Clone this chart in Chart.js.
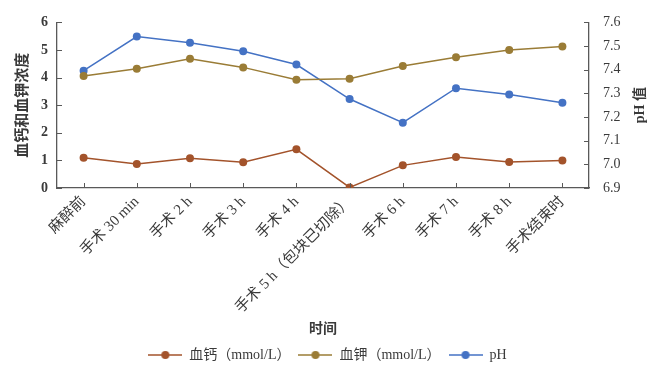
<!DOCTYPE html>
<html>
<head>
<meta charset="utf-8">
<script src="https://cdn.jsdelivr.net/npm/chart.js@4/dist/chart.umd.min.js"></script>
<style>
  html, body { margin: 0; padding: 0; background: #fff; }
  #wrap { width: 655px; height: 377px; }
</style>
</head>
<body>
<div id="wrap"><canvas id="chart" width="655" height="377"></canvas></div>
<script>
const categories = ['麻醉前', '手术 30 min', '手术 2 h', '手术 3 h', '手术 4 h', '手术 5 h（包块已切除）', '手术 6 h', '手术 7 h', '手术 8 h', '手术结束时'];
const calcium = [1.1, 0.87, 1.08, 0.93, 1.4, 0.02, 0.82, 1.12, 0.94, 1.0];
const potassium = [4.06, 4.32, 4.68, 4.37, 3.92, 3.96, 4.42, 4.74, 5.0, 5.13];
const ph = [7.396, 7.54, 7.514, 7.478, 7.422, 7.276, 7.176, 7.322, 7.295, 7.26];

const leftTicks = [0, 1, 2, 3, 4, 5, 6];
const rightTicks = [6.9, 7.0, 7.1, 7.2, 7.3, 7.4, 7.5, 7.6];

const colCa = '#A3532B';
const colK = '#9A7C36';
const colPh = '#4472C4';
const axisCol = '#595959';
const textCol = '#3a3a3a';
const serif = '"Liberation Serif", "Noto Sans CJK SC", serif';

// small line+dot icons for the legend
function legendIcon(color) {
    const c = document.createElement('canvas');
    c.width = 34; c.height = 10;
    const g = c.getContext('2d');
    g.strokeStyle = color;
    g.lineWidth = 1.5;
    g.beginPath(); g.moveTo(0, 5); g.lineTo(34, 5); g.stroke();
    g.fillStyle = color;
    g.beginPath(); g.arc(17, 5, 4, 0, Math.PI * 2); g.fill();
    return c;
}

// tick marks pointing into the plot, plus right axis title (reads bottom-to-top)
const extras = {
    id: 'extras',
    afterDraw(chart) {
        const ctx = chart.ctx;
        const a = chart.chartArea;
        const len = 5;
        ctx.save();
        ctx.strokeStyle = axisCol;
        ctx.lineWidth = 1;
        ctx.beginPath();
        const sx = chart.scales.x;
        sx.ticks.forEach((t, i) => {
            const px = Math.round(sx.getPixelForTick(i)) + 0.5;
            ctx.moveTo(px, a.bottom); ctx.lineTo(px, a.bottom - len);
        });
        const sy = chart.scales.y;
        sy.ticks.forEach(t => {
            const py = Math.round(sy.getPixelForValue(t.value)) + 0.5;
            ctx.moveTo(a.left, py); ctx.lineTo(a.left + len, py);
        });
        const sy1 = chart.scales.y1;
        sy1.ticks.forEach(t => {
            const py = Math.round(sy1.getPixelForValue(t.value)) + 0.5;
            ctx.moveTo(a.right, py); ctx.lineTo(a.right - len, py);
        });
        ctx.stroke();

        ctx.translate(640, (a.top + a.bottom) / 2);
        ctx.rotate(-Math.PI / 2);
        ctx.font = 'bold 14px ' + serif;
        ctx.fillStyle = textCol;
        ctx.textAlign = 'center';
        ctx.textBaseline = 'middle';
        ctx.fillText('pH 值', 0, 0);
        ctx.restore();
    }
};

const ds = (label, data, color, axis) => ({
    label, data, yAxisID: axis,
    borderColor: color, backgroundColor: color,
    borderWidth: 1.5, pointRadius: 4, pointHoverRadius: 4,
    pointBorderWidth: 0, tension: 0,
    pointStyle: 'circle',
    legendIcon: legendIcon(color)
});

const datasets = [
    ds('血钙（mmol/L）', calcium, colCa, 'y'),
    ds('血钾（mmol/L）', potassium, colK, 'y'),
    ds('pH', ph, colPh, 'y1')
];

new Chart(document.getElementById('chart'), {
    type: 'line',
    data: { labels: categories, datasets },
    options: {
        responsive: false,
        animation: false,
        layout: { padding: { top: 20, left: 0, right: 0, bottom: 5 } },
        plugins: {
            tooltip: { enabled: false },
            legend: {
                position: 'bottom',
                labels: {
                    usePointStyle: true,
                    pointStyleWidth: 34,
                    padding: 8,
                    color: textCol,
                    font: { family: serif, size: 14 },
                    generateLabels(chart) {
                        return chart.data.datasets.map((d, i) => ({
                            text: d.label,
                            fillStyle: d.borderColor,
                            strokeStyle: d.borderColor,
                            lineWidth: 0,
                            pointStyle: d.legendIcon,
                            fontColor: textCol,
                            datasetIndex: i,
                            hidden: false
                        }));
                    }
                }
            }
        },
        scales: {
            x: {
                offset: true,
                grid: { display: true, drawOnChartArea: false, drawTicks: false, offset: false },
                border: { color: axisCol, width: 1.3 },
                ticks: {
                    autoSkip: false, maxRotation: 45, minRotation: 45,
                    padding: 5, color: textCol,
                    font: { family: serif, size: 15 }
                },
                title: {
                    display: true, text: '时间', color: textCol,
                    font: { family: serif, size: 14, weight: 'bold' },
                    padding: { top: 0, bottom: 2 }
                },
                afterFit(scale) { scale.height = 152; }
            },
            y: {
                position: 'left',
                min: 0, max: 6,
                afterBuildTicks(scale) { scale.ticks = leftTicks.map(v => ({ value: v })); },
                grid: { drawOnChartArea: false, drawTicks: false },
                border: { color: axisCol, width: 1.3 },
                ticks: {
                    padding: 9, color: textCol,
                    font: { family: serif, size: 14, weight: 'bold' }
                },
                title: {
                    display: true, text: '血钙和血钾浓度', color: textCol,
                    font: { family: serif, size: 15, weight: 'bold' },
                    padding: { top: 14, bottom: 0 }
                },
                afterFit(scale) { scale.width = 57; }
            },
            y1: {
                position: 'right',
                min: 6.9, max: 7.6,
                afterBuildTicks(scale) { scale.ticks = rightTicks.map(v => ({ value: v })); },
                grid: { drawOnChartArea: false, drawTicks: false },
                border: { color: axisCol, width: 1.3 },
                ticks: {
                    padding: 14, color: textCol,
                    font: { family: serif, size: 14 },
                    callback: v => v.toFixed(1)
                },
                afterFit(scale) { scale.width = 66; }
            }
        }
    },
    plugins: [extras]
});
</script>
</body>
</html>
